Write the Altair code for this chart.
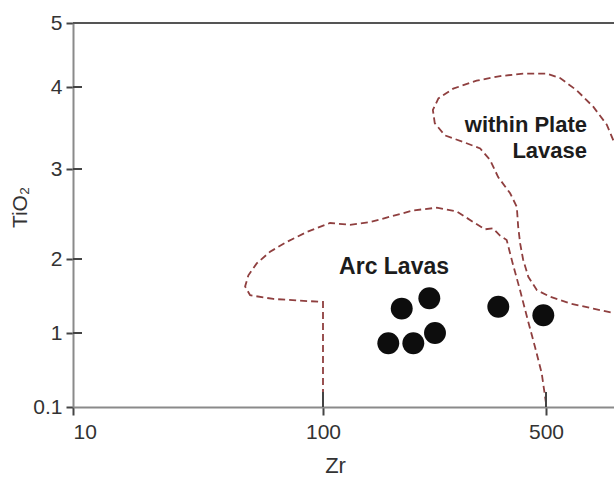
import altair as alt
import pandas as pd

# ---- data ----
zr_ticks = [10, 100, 500]
tio2_ticks = [0.1, 1, 2, 3, 4, 5]

sample_zr = [176.5, 215.4, 160.2, 191.9, 224.4, 354.4, 490.4]
sample_tio2 = [1.33, 1.47, 0.875, 0.875, 1.0, 1.355, 1.24]

arc_zr = [100, 100, 78.5, 63.3, 51.1, 48.8, 50.3, 54.3, 61.4, 71.6,
          86.1, 105.2, 121.5, 140.4, 162.2, 191.9, 227.2, 262.4, 295.9, 322,
          341, 358.7, 376.5, 393.2, 414.5, 438.1, 461.9, 484.8, 502]
arc_tio2 = [0.1, 1.42, 1.44, 1.46, 1.51, 1.63, 1.78, 1.94, 2.08, 2.19,
            2.30, 2.40, 2.38, 2.41, 2.47, 2.54, 2.57, 2.53, 2.41, 2.33,
            2.34, 2.26, 2.21, 1.94, 1.58, 1.18, 0.83, 0.51, 0.1]

wp_zr = [816, 778, 705, 625, 554, 502, 424, 359, 303, 256,
         230, 221, 224, 241, 275, 311, 334, 354, 386, 405,
         409, 415, 424, 440, 468, 515, 595, 705, 820]
wp_tio2 = [3.35, 3.54, 3.76, 3.96, 4.14, 4.21, 4.21, 4.17, 4.10, 3.98,
           3.86, 3.72, 3.56, 3.41, 3.33, 3.25, 3.11, 2.91, 2.73, 2.58,
           2.36, 2.17, 1.99, 1.76, 1.58, 1.49, 1.40, 1.33, 1.27]

label_text = ["Arc Lavas", ["within Plate", "Lavase"]]
label_zr = [167, 674]
label_tio2 = [1.89, 3.45]
label_align = ["center", "right"]

# ---- tables ----
pts = pd.DataFrame({"Zr": sample_zr, "TiO2": sample_tio2})
bounds = pd.DataFrame({
    "Zr": arc_zr + wp_zr,
    "TiO2": arc_tio2 + wp_tio2,
    "field": ["arc"] * len(arc_zr) + ["wp"] * len(wp_zr),
    "i": list(range(len(arc_zr))) + list(range(len(wp_zr))),
})
xt = pd.DataFrame({"Zr": zr_ticks[1:]})
yt = pd.DataFrame({"TiO2": tio2_ticks[1:-1]})

FONT = "Liberation Sans"
xscale = alt.Scale(type="log", domain=[10, 100, 500, 820], range=[0, 250, 473, 541], nice=False)
yscale = alt.Scale(type="linear", domain=tio2_ticks, range=[384, 310, 236, 146, 64, 0],
                   nice=False, zero=False)

xaxis = alt.Axis(values=zr_ticks, format="~g", title="Zr", grid=False,
                 domainColor="#8a8a8a", domainWidth=2, tickColor="#444444", tickWidth=2,
                 tickSize=8, labelFlush=True, labelPadding=6, labelFont=FONT,
                 labelFontSize=21, labelColor="#333333", titleFont=FONT, titleFontSize=22,
                 titleFontWeight="normal", titleColor="#333333", titleX=262, titleY=58,
                 titleBaseline="middle", titleAlign="center")
yaxis = alt.Axis(values=tio2_ticks, format="~g", title="TiO₂", grid=False,
                 domainColor="#8a8a8a", domainWidth=2, tickColor="#444444", tickWidth=2,
                 tickSize=7, labelPadding=4, labelFont=FONT, labelFontSize=21,
                 labelColor="#333333", titleFont=FONT, titleFontSize=21,
                 titleFontWeight="normal", titleColor="#333333", titleX=-53, titleY=184,
                 titleAngle=270, titleBaseline="middle", titleAlign="center")

lines = alt.Chart(bounds).mark_line(
    color="#8f3f3f", strokeWidth=1.8, strokeDash=[7, 4], clip=True
).encode(
    x=alt.X("Zr:Q", scale=xscale, axis=xaxis),
    y=alt.Y("TiO2:Q", scale=yscale, axis=yaxis),
    detail="field:N",
    order="i:Q",
)

top = alt.Chart(pts).mark_rule(color="#555555", strokeWidth=2).encode(y=alt.datum(5))

ytick_in = alt.Chart(yt).mark_rule(color="#444444", strokeWidth=2).encode(
    y="TiO2:Q", x=alt.value(0), x2=alt.value(9))
xtick_in = alt.Chart(xt).mark_rule(color="#444444", strokeWidth=2).encode(
    x="Zr:Q", y=alt.value(369), y2=alt.value(384))

dots = alt.Chart(pts).mark_circle(size=480, color="#0d0d0d", opacity=1).encode(
    x="Zr:Q", y="TiO2:Q")

labels = pd.DataFrame({"Zr": label_zr, "TiO2": label_tio2, "t": label_text, "a": label_align})
arc_lbl = alt.Chart(labels.iloc[[0]]).mark_text(
    font=FONT, fontSize=23, fontWeight="bold", color="#1c1c1c", align="center",
    baseline="middle").encode(x="Zr:Q", y="TiO2:Q", text="t")
wp_lbl = alt.Chart(labels.iloc[[1]]).mark_text(
    font=FONT, fontSize=22, fontWeight="bold", color="#1c1c1c", align="right",
    baseline="alphabetic", lineHeight=26).encode(x="Zr:Q", y="TiO2:Q", text="t")

chart = alt.layer(lines, top, ytick_in, xtick_in, dots, arc_lbl, wp_lbl).properties(
    width=541, height=384,
    autosize=alt.AutoSizeParams(type="none"),
    padding={"left": 73, "top": 23, "right": 0, "bottom": 88},
).configure_view(stroke=None).configure(background="white")

chart.save("out.html", embed_options={"renderer": "svg", "actions": False})
